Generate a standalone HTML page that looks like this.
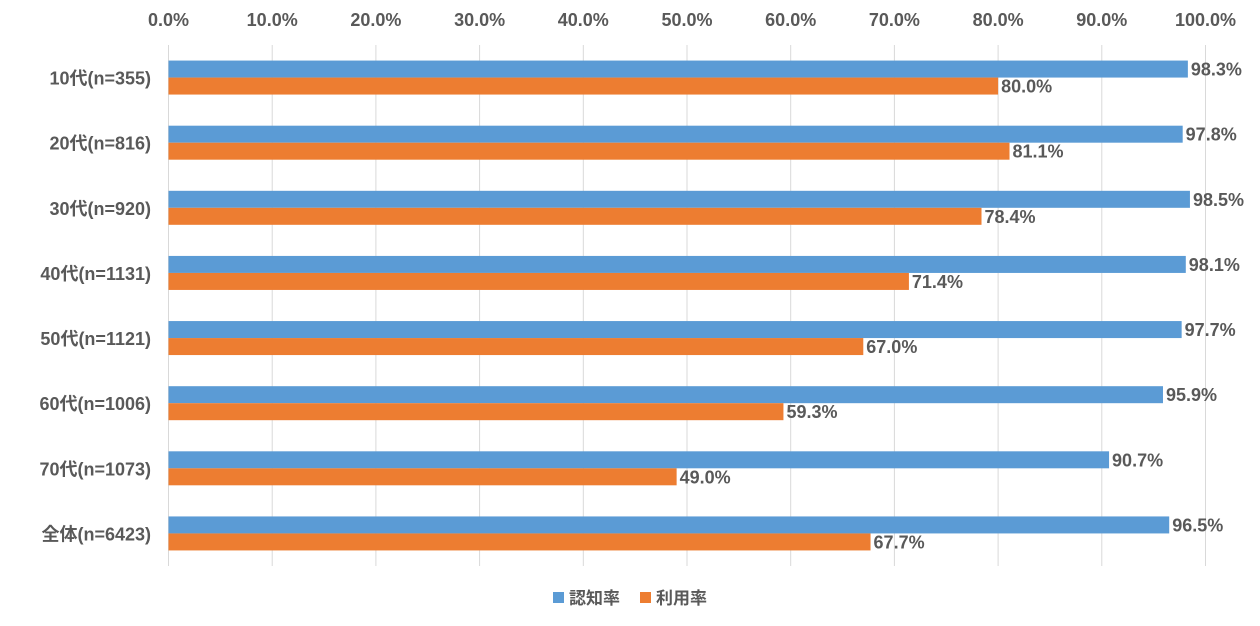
<!DOCTYPE html>
<html><head><meta charset="utf-8"><style>
body{margin:0;background:#fff}
svg text{font-family:"Liberation Sans","Noto Sans CJK JP",sans-serif;font-weight:bold;fill:#595959}
</style></head><body>
<svg width="1260" height="621" viewBox="0 0 1260 621">
<g id="grid"></g><g id="bars"></g><g id="labels"></g>
<g>
<rect x="553" y="592" width="11" height="11" fill="#5b9bd5"/>
<text x="569" y="604" font-size="17">認知率</text>
<rect x="640" y="592" width="11" height="11" fill="#ed7d31"/>
<text x="656" y="604" font-size="17">利用率</text>
</g>
</svg>
<script>
const categories=["10代(n=355)","20代(n=816)","30代(n=920)","40代(n=1131)","50代(n=1121)","60代(n=1006)","70代(n=1073)","全体(n=6423)"];
const awareness=[98.3,97.8,98.5,98.1,97.7,95.9,90.7,96.5];
const usage=[80.0,81.1,78.4,71.4,67.0,59.3,49.0,67.7];
const ticks=[0,10,20,30,40,50,60,70,80,90,100];
const NS="http://www.w3.org/2000/svg";
const x0=168.5,x1=1205.5,plotTop=45,plotBottom=566;
const band=(plotBottom-plotTop)/categories.length;
const xs=v=>x0+(x1-x0)*v/100;
function mk(t,a,p){const e=document.createElementNS(NS,t);for(const k in a)e.setAttribute(k,a[k]);p.appendChild(e);return e;}
const g=document.getElementById('grid'),b=document.getElementById('bars'),l=document.getElementById('labels');
ticks.forEach(t=>{
 const ln=mk('line',{x1:xs(t),x2:xs(t),y1:plotTop,y2:plotBottom,stroke:'#d9d9d9','stroke-width':1},g);
 
 
 const tx=mk('text',{x:xs(t),y:26,'text-anchor':'middle','font-size':18},l);
 tx.textContent=t.toFixed(1)+'%';
 
 
});
categories.forEach((c,i)=>{
 const yc=plotTop+band*i+band/2;
 const ct=mk('text',{x:151,y:yc+7,'text-anchor':'end','font-size':18},l);
 ct.textContent=c;
 
 
 [[awareness,'#5b9bd5',yc-17],[usage,'#ed7d31',yc]].forEach(([arr,col,y],k)=>{
  const r=mk('rect',{x:x0,y:y,width:xs(arr[i])-x0,height:17,fill:col},b);
  
  
  const vt=mk('text',{x:xs(arr[i])+3,y:y+15,'font-size':18},l);
  vt.textContent=arr[i].toFixed(1)+'%';
  
  
 });
});
</script>
</body></html>
